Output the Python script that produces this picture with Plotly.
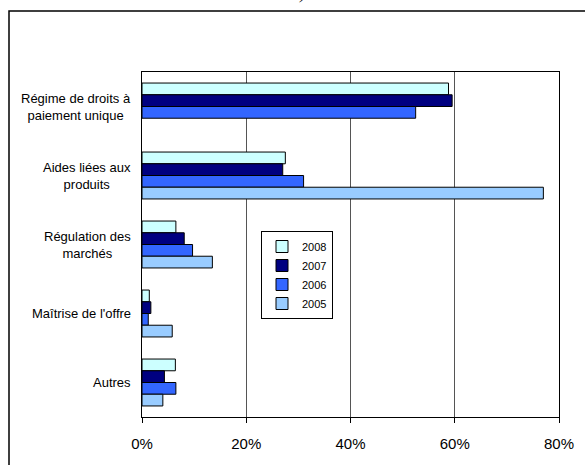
import plotly.graph_objects as go

categories = ["Régime de droits à<br>paiement unique", "Aides liées aux<br>produits",
              "Régulation des<br>marchés", "Maîtrise de l'offre", "Autres"]
years = ["2008", "2007", "2006", "2005"]
v2008 = [58.8, 27.5, 6.5, 1.4, 6.4]
v2007 = [59.5, 27.0, 8.1, 1.7, 4.3]
v2006 = [52.5, 31.0, 9.7, 1.2, 6.5]
v2005 = [None, 77.0, 13.5, 5.8, 4.0]
colors = ["#CCFFFF", "#000080", "#3366FF", "#99CCFF"]
x_ticks = [0, 20, 40, 60, 80]

series = [v2008, v2007, v2006, v2005]
fig = go.Figure()
for name, vals, col in zip(years, series, colors):
    fig.add_trace(go.Bar(
        y=categories, x=vals, name=name, orientation="h",
        marker=dict(color=col, line=dict(color="#000000", width=1)),
    ))

# category labels, centred lines, right edge next to the axis
cat_annotations = [dict(
    text=c, xref="paper", yref="y", x=0, y=c, xanchor="right", yanchor="middle",
    xshift=-9, align="center", showarrow=False,
    font=dict(family="Liberation Sans, Arial, sans-serif", size=13, color="#000000"),
) for c in categories]

fig.update_layout(
    width=585, height=465,
    margin=dict(l=142, r=26, t=72, b=48),
    paper_bgcolor="white", plot_bgcolor="white",
    barmode="group", bargap=0.32, bargroupgap=0,
    font=dict(family="Liberation Sans, Arial, sans-serif", color="#000000"),
    showlegend=True,
    legend=dict(
        x=(261 - 142) / 417, y=(417 - 231) / 345, xanchor="left", yanchor="top",
        bgcolor="white", bordercolor="#000000", borderwidth=1,
        font=dict(size=11), traceorder="normal",
        itemwidth=30, tracegroupgap=0,
    ),
    xaxis=dict(
        range=[0, 80], tickvals=x_ticks, ticktext=[f"{t}%" for t in x_ticks],
        showgrid=True, gridcolor="#555555", gridwidth=1,
        showline=True, linecolor="#000000", linewidth=1, mirror=True,
        ticks="outside", ticklen=5, tickcolor="#000000",
        tickfont=dict(size=15), zeroline=False, fixedrange=True,
        ticklabelstandoff=8,
    ),
    yaxis=dict(
        autorange="reversed", showline=True, linecolor="#000000", linewidth=1,
        mirror=True, ticks="", showticklabels=False, showgrid=False,
    ),
    shapes=[dict(
        type="rect", xref="paper", yref="paper",
        x0=(9 - 142) / 417, x1=1.2, y0=-0.3, y1=(417 - 11) / 345,
        line=dict(color="#000000", width=1.5), fillcolor="rgba(0,0,0,0)", layer="below",
    )],
    annotations=cat_annotations + [dict(
        text="<i>)</i>", xref="paper", yref="paper",
        x=(302 - 142) / 417, y=(417 - 5) / 345, xanchor="center", yanchor="bottom",
        showarrow=False, font=dict(family="Liberation Serif", size=16),
    )],
)

fig.write_html("out.html")
